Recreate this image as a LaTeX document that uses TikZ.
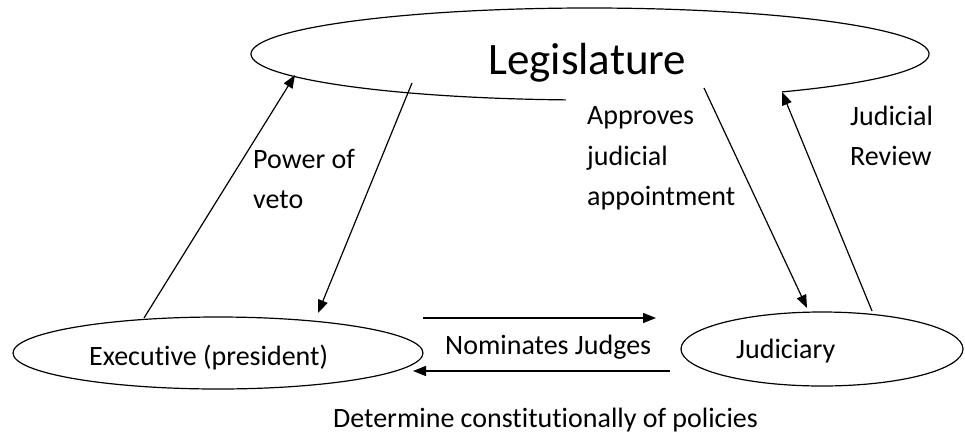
\documentclass[tikz,border=0pt]{standalone}
\usepackage{fontspec}
\setmainfont[Ligatures=NoCommon]{Carlito}
\usetikzlibrary{arrows.meta,shapes.geometric}
\tikzset{
  conn/.style={line width=1.2pt, -{Triangle[length=13pt,width=10pt]}},
  outline/.style={line width=1.2pt},
  oval/.style={ellipse, draw, line width=1.2pt, inner sep=0pt},
  txt/.style={inner sep=0pt, anchor=base west, font=\fontsize{28}{34}\selectfont},
  bigtxt/.style={inner sep=0pt, anchor=base west, font=\fontsize{45}{54}\selectfont}
}
\begin{document}
\begin{tikzpicture}[x=1pt,y=-1pt]
\useasboundingbox (0,0) rectangle (965,434);
% ellipses
\node[ellipse, inner sep=0pt, minimum width=678pt, minimum height=92pt] (leg) at (590,54) {};
\draw[outline] ([shift={(304.5:339pt and 46pt)}]leg.center) arc[start angle=304.5, end angle=625.9, x radius=339pt, y radius=46pt];
\node[oval, minimum width=410pt, minimum height=72pt] (exe) at (218,353) {};
\node[oval, minimum width=282pt, minimum height=74pt] (jud) at (822,349) {};
% texts
\node[bigtxt] (tleg) at (488,74) {Legislature};
\node[txt] (texe) at (89,365) {Executive (president)};
\node[txt] (tjud) at (736,358) {Judiciary};
\node[txt] (tpow) at (253,168) {Power of};
\node[txt] (tveto) at (253,208) {veto};
\node[txt] (tapp1) at (587,124) {Approves};
\node[txt] (tapp2) at (587,165) {judicial};
\node[txt] (tapp3) at (587,205) {appointment};
\node[txt] (tjr1) at (850,125) {Judicial};
\node[txt] (tjr2) at (850,165) {Review};
\node[txt] (tnom) at (445,354) {Nominates Judges};
\node[txt] (tdet) at (333,427) {Determine constitutionally of policies};
% connector end points
\coordinate (vetoS) at (144,318);
\coordinate (vetoE) at (295,75);
\coordinate (legexS) at (412,83);
\coordinate (legexE) at (318,313);
\coordinate (legjuS) at (704,88);
\coordinate (legjuE) at (807,308);
\coordinate (jrS) at (872,311);
\coordinate (jrE) at (782,92);
\coordinate (nomS) at (423,318);
\coordinate (nomE) at (656,318);
\coordinate (detS) at (670,371);
\coordinate (detE) at (413,371);
% connectors
\draw[conn] (vetoS) -- (vetoE);
\draw[conn] (legexS) -- (legexE);
\draw[conn] (legjuS) -- (legjuE);
\draw[conn] (jrS) -- (jrE);
\draw[conn] (nomS) -- (nomE);
\draw[conn] (detS) -- (detE);
\end{tikzpicture}
\end{document}
